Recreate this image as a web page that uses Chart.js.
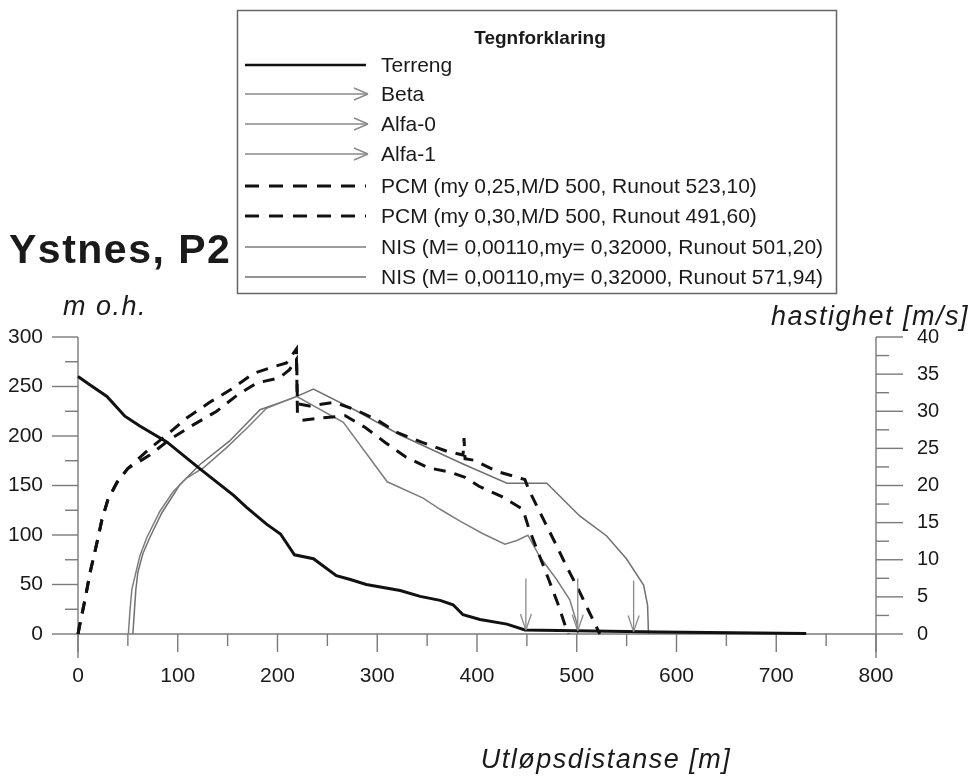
<!DOCTYPE html>
<html>
<head>
<meta charset="utf-8">
<script src="https://cdn.jsdelivr.net/npm/chart.js@4.4.1/dist/chart.umd.min.js"></script>
<style>
html,body{margin:0;padding:0;background:#fff;}
canvas{display:block;}
</style>
</head>
<body>
<canvas id="c" width="972" height="780"></canvas>
<script>
// ---------- texts ----------
const chartTitle = 'Ystnes, P2';
const legendTitle = 'Tegnforklaring';
const xAxisTitle = 'Utløpsdistanse [m]';
const yLeftTitle = 'm o.h.';
const yRightTitle = 'hastighet [m/s]';

// ---------- ticks ----------
const xTicks = [0, 100, 200, 300, 400, 500, 600, 700, 800];
const xMinorTicks = [50, 150, 250, 350, 450, 550, 650, 750];
const yLeftTicks = [0, 50, 100, 150, 200, 250, 300];
const yLeftMinorTicks = [25, 75, 125, 175, 225, 275];
const yRightTicks = [0, 5, 10, 15, 20, 25, 30, 35, 40];
const yRightMinorTicks = [2.5, 7.5, 12.5, 17.5, 22.5, 27.5, 32.5, 37.5];

// ---------- series ----------
const labels = [
  'Terreng', 'Beta', 'Alfa-0', 'Alfa-1',
  'PCM (my 0,25,M/D 500, Runout 523,10)',
  'PCM (my 0,30,M/D 500, Runout 491,60)',
  'NIS (M= 0,00110,my= 0,32000, Runout 501,20)',
  'NIS (M= 0,00110,my= 0,32000, Runout 571,94)'
];

const terrengX = [0, 10, 29, 47, 62, 89, 122, 156, 169, 189, 203, 217, 236, 259, 273, 289, 323, 343, 363, 376, 386, 403, 430, 448, 583, 730];
const terrengY = [260, 253, 240, 220, 210, 194, 167, 140, 128, 111, 101, 80, 76, 59, 55, 50, 44, 38, 34, 29.5, 19.5, 14.7, 10, 4, 2, 0.5];

const betaX = [449, 449];
const betaY = [56, 4];
const alfa0X = [501, 501];
const alfa0Y = [56, 3.2];
const alfa1X = [557, 557];
const alfa1Y = [54, 2.4];

const pcm1X = [0, 2, 7, 12, 19, 24, 30, 39, 50, 72, 89, 109, 132, 154, 176, 196, 209, 219, 220, 232, 257, 278, 299, 319, 345, 370, 386, 387, 388, 397, 420, 443, 448, 452, 466, 479, 489, 501, 512, 523.1];
const pcm1Y = [0, 1.4, 4.6, 8.2, 12.3, 15.4, 18.1, 20.4, 22.3, 25, 26.8, 29.1, 31.2, 33, 35.1, 36, 36.5, 38.4, 31, 30.7, 31.2, 30.2, 28.9, 27.2, 25.8, 24.6, 24.1, 26.4, 23.6, 23.4, 21.9, 21, 20.8, 19.4, 15.6, 12.1, 9.3, 6.2, 3.1, 0];

const pcm2X = [0, 2, 7, 12, 19, 24, 30, 39, 50, 72, 92, 116, 139, 159, 179, 202, 212, 219, 220, 225, 244, 268, 288, 308, 329, 351, 373, 388, 402, 425, 446, 452, 463, 472, 481, 489, 491.6];
const pcm2Y = [0, 1.4, 4.6, 8.2, 12.3, 15.4, 18.1, 20.4, 22.3, 24.1, 26.2, 28.2, 30, 32.1, 33.8, 34.5, 35.6, 37, 29.8, 28.8, 29.1, 29.4, 27.8, 25.8, 23.8, 22.4, 21.8, 21.1, 19.9, 18.5, 16.8, 14.2, 10.4, 7.3, 4.1, 0.9, 0];

const nis1X = [50.5, 52, 54, 57.5, 62, 69, 82, 95.5, 109, 126, 149, 170, 189, 219, 266, 310, 346, 363, 383, 406, 428, 440, 451, 463, 480, 493, 500, 501.2];
const nis1Y = [0, 3, 6, 8, 10.5, 13, 16.5, 19.2, 21, 22.4, 25.1, 27.8, 30.4, 32, 28.5, 20.5, 18.3, 16.8, 15.2, 13.5, 12.1, 12.6, 13.3, 10.4, 7.3, 4.6, 1.5, 0];

const nis2X = [55, 56.5, 58, 60, 65, 72, 84, 102, 122, 152, 182.5, 216, 236, 280, 323, 386, 430, 470, 503, 530, 550, 567, 571, 571.94];
const nis2Y = [0, 3, 6, 8.3, 10.8, 13, 16.3, 20.1, 22.8, 26, 30.2, 31.8, 33, 30, 26.8, 22.9, 20.3, 20.3, 15.9, 13.2, 10.1, 6.6, 3.9, 0];

// ---------- helpers ----------
const pts = (xs, ys) => xs.map((x, i) => ({x: x, y: ys[i]}));
const FONT = "'Liberation Sans', Arial, sans-serif";
const GRAY = '#7a7a7a';

const styles = [
  {color: '#111', width: 3, dash: [], axis: 'y', kind: 'line'},
  {color: '#8a8a8a', width: 1.3, dash: [], axis: 'y', kind: 'arrow'},
  {color: '#8a8a8a', width: 1.3, dash: [], axis: 'y', kind: 'arrow'},
  {color: '#8a8a8a', width: 1.3, dash: [], axis: 'y', kind: 'arrow'},
  {color: '#111', width: 3, dash: [12, 9], axis: 'y2', kind: 'dash'},
  {color: '#111', width: 3, dash: [12, 9], axis: 'y2', kind: 'dash'},
  {color: '#7d7d7d', width: 1.5, dash: [], axis: 'y2', kind: 'thin'},
  {color: '#707070', width: 1.5, dash: [], axis: 'y2', kind: 'thin'}
];
const seriesData = [
  pts(terrengX, terrengY), pts(betaX, betaY), pts(alfa0X, alfa0Y), pts(alfa1X, alfa1Y),
  pts(pcm1X, pcm1Y), pts(pcm2X, pcm2Y), pts(nis1X, nis1Y), pts(nis2X, nis2Y)
];

const datasets = labels.map((lab, i) => ({
  label: lab,
  data: seriesData[i],
  yAxisID: styles[i].axis,
  borderColor: styles[i].color,
  borderWidth: styles[i].width,
  borderDash: styles[i].dash,
  pointRadius: 0,
  tension: 0,
  fill: false,
  kind: styles[i].kind,
  clip: false
}));

function seg(ctx, x1, y1, x2, y2) {
  ctx.beginPath(); ctx.moveTo(x1, y1); ctx.lineTo(x2, y2); ctx.stroke();
}

const bgPlugin = {
  id: 'bg',
  beforeDraw(chart) {
    const ctx = chart.ctx;
    ctx.save(); ctx.fillStyle = '#fff'; ctx.fillRect(0, 0, chart.width, chart.height); ctx.restore();
  }
};

const axesPlugin = {
  id: 'axesDraw',
  beforeDatasetsDraw(chart) {
    const {ctx} = chart;
    const {x, y, y2} = chart.scales;
    const x0 = x.getPixelForValue(0), x1 = x.getPixelForValue(800);
    const yb = y.getPixelForValue(0);
    ctx.save();
    ctx.strokeStyle = GRAY; ctx.lineWidth = 1.4;
    seg(ctx, x0, yb, x1, yb);
    seg(ctx, x0, y.getPixelForValue(300), x0, yb + 24);
    seg(ctx, x1, y2.getPixelForValue(40), x1, yb + 24);
    yLeftTicks.forEach(v => { const p = y.getPixelForValue(v); seg(ctx, x0 - 26, p, x0, p); });
    yLeftMinorTicks.forEach(v => { const p = y.getPixelForValue(v); seg(ctx, x0 - 13, p, x0, p); });
    yRightTicks.forEach(v => { const p = y2.getPixelForValue(v); seg(ctx, x1, p, x1 + 27, p); });
    yRightMinorTicks.forEach(v => { const p = y2.getPixelForValue(v); seg(ctx, x1, p, x1 + 13, p); });
    xTicks.forEach(v => { const p = x.getPixelForValue(v); seg(ctx, p, yb, p, yb + 18); });
    xMinorTicks.forEach(v => { const p = x.getPixelForValue(v); seg(ctx, p, yb, p, yb + 12); });
    ctx.restore();
  }
};

const arrowPlugin = {
  id: 'arrows',
  afterDatasetsDraw(chart) {
    const ctx = chart.ctx;
    chart.data.datasets.forEach((ds, i) => {
      if (ds.kind !== 'arrow') return;
      const meta = chart.getDatasetMeta(i);
      const n = meta.data.length;
      const tip = meta.data[n - 1], prev = meta.data[n - 2];
      const ang = Math.atan2(tip.y - prev.y, tip.x - prev.x);
      ctx.save();
      ctx.strokeStyle = ds.borderColor; ctx.lineWidth = 1.3;
      const L = 17, a = 0.33;
      seg(ctx, tip.x, tip.y, tip.x - L * Math.cos(ang - a), tip.y - L * Math.sin(ang - a));
      seg(ctx, tip.x, tip.y, tip.x - L * Math.cos(ang + a), tip.y - L * Math.sin(ang + a));
      ctx.restore();
    });
  }
};

const textPlugin = {
  id: 'texts',
  afterDraw(chart) {
    const ctx = chart.ctx;
    ctx.save();
    ctx.fillStyle = '#1a1a1a';
    ctx.textBaseline = 'alphabetic';
    // main title
    ctx.font = "bold 41px " + FONT;
    ctx.letterSpacing = '1.5px';
    ctx.textAlign = 'left';
    ctx.fillText(chartTitle, 9, 263);
    // axis titles
    ctx.font = "italic 27px " + FONT;
    ctx.letterSpacing = '1.5px';
    ctx.textAlign = 'left';
    ctx.fillText(yLeftTitle, 63, 315);
    ctx.textAlign = 'right';
    ctx.fillText(yRightTitle, 969, 325);
    ctx.textAlign = 'center';
    ctx.fillText(xAxisTitle, 606, 768);
    ctx.letterSpacing = '0px';

    // legend box
    const L = 237.5, T = 10.5, R = 836.5, B = 293.5;
    ctx.strokeStyle = '#666'; ctx.lineWidth = 1.5;
    ctx.strokeRect(L, T, R - L, B - T);
    ctx.font = "bold 19px " + FONT;
    ctx.textAlign = 'center';
    ctx.textBaseline = 'middle';
    ctx.fillText(legendTitle, 540, 39);
    const rows = [65, 94, 124, 154, 186, 216, 247, 277];
    ctx.font = "21px " + FONT;
    ctx.textAlign = 'left';
    chart.data.datasets.forEach((ds, i) => {
      const yy = rows[i];
      ctx.save();
      ctx.strokeStyle = ds.borderColor;
      ctx.lineWidth = ds.kind === 'line' ? 2.6 : (ds.kind === 'dash' ? 3 : 1.4);
      ctx.setLineDash(ds.kind === 'dash' ? [14, 10] : []);
      seg(ctx, 245, yy, 366, yy);
      ctx.setLineDash([]);
      if (ds.kind === 'arrow') {
        seg(ctx, 368, yy, 354, yy - 6);
        seg(ctx, 368, yy, 354, yy + 6);
      }
      ctx.restore();
      ctx.fillStyle = '#1a1a1a';
      ctx.fillText(ds.label, 381, yy + 1);
    });
    ctx.restore();
  }
};

new Chart(document.getElementById('c'), {
  type: 'line',
  data: {datasets: datasets},
  options: {
    responsive: false,
    animation: false,
    devicePixelRatio: 1,
    parsing: true,
    layout: {padding: {top: 337, left: 0, right: 0, bottom: 0}},
    plugins: {legend: {display: false}, title: {display: false}, tooltip: {enabled: false}},
    scales: {
      x: {
        type: 'linear', min: 0, max: 800,
        afterBuildTicks: s => { s.ticks = xTicks.map(v => ({value: v})); },
        afterFit: s => { s.height = 146; },
        grid: {display: false, drawTicks: false}, border: {display: false},
        ticks: {font: {family: FONT, size: 21}, color: '#1a1a1a', padding: 30, maxRotation: 0, autoSkip: false}
      },
      y: {
        type: 'linear', position: 'left', min: 0, max: 300,
        afterBuildTicks: s => { s.ticks = yLeftTicks.map(v => ({value: v})); },
        afterFit: s => { s.width = 78; },
        grid: {display: false, drawTicks: false}, border: {display: false},
        ticks: {font: {family: FONT, size: 21}, color: '#1a1a1a', padding: 35, autoSkip: false}
      },
      y2: {
        type: 'linear', position: 'right', min: 0, max: 40,
        afterBuildTicks: s => { s.ticks = yRightTicks.map(v => ({value: v})); },
        afterFit: s => { s.width = 96; },
        grid: {display: false, drawTicks: false}, border: {display: false},
        ticks: {font: {family: FONT, size: 20}, color: '#1a1a1a', padding: 41, autoSkip: false}
      }
    }
  },
  plugins: [bgPlugin, axesPlugin, arrowPlugin, textPlugin]
});
</script>
</body>
</html>
